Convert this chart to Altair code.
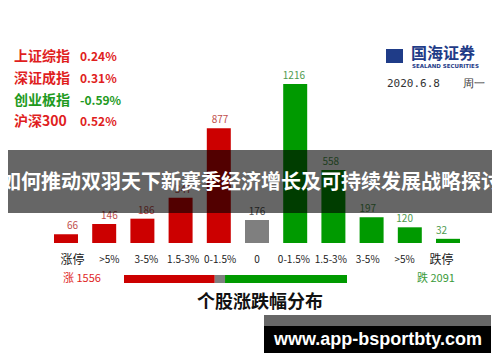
import altair as alt
import pandas as pd

# ---- data ----
categories = ["涨停", ">5%", "3-5%", "1.5-3%", "0-1.5%", "0", "0-1.5%", "1.5-3%", "3-5%", ">5%", "跌停"]
counts = [66, 146, 186, 347, 877, 176, 1216, 558, 197, 120, 32]
groups = ["up", "up", "up", "up", "up", "flat", "down", "down", "down", "down", "down"]

index_names = ["上证综指", "深证成指", "创业板指", "沪深300"]
index_changes = ["0.24%", "0.31%", "-0.59%", "0.52%"]
index_dirs = ["up", "up", "down", "up"]

breadth_labels = ["涨", "平", "跌"]
breadth_counts = [1556, 176, 2091]
breadth_groups = ["up", "flat", "down"]

date_text = "2020.6.8"
weekday_text = "周一"
chart_title = "个股涨跌幅分布"
overlay_title = "如何推动双羽天下新赛季经济增长及可持续发展战略探讨"
watermark = "www.app-bsportbty.com"

# ---- styles ----
O = 8  # page margin offset
W, H = 500 - 2 * O, 362 - 2 * O
FONT = "Noto Sans CJK SC"
bar_col = {"up": "#cc0000", "flat": "#7f7f7f", "down": "#009a00"}
lab_col = {"up": "#c0504d", "flat": "#555555", "down": "#4e9a4e"}
txt_col = {"up": "#e01e1e", "down": "#1e9a1e"}

keys = [f"k{i}" for i in range(len(categories))]
bars = pd.DataFrame({
    "key": keys,
    "cat": categories,
    "count": counts,
    "bar_color": [bar_col[g] for g in groups],
    "lab_color": [lab_col[g] for g in groups],
    "fs": [12 if c in ("涨停", "跌停") else 10 for c in categories],
})

xscale = alt.Scale(domain=keys, range=[54 - O, 460 - O], paddingInner=0.372, paddingOuter=0)
yscale = alt.Scale(domain=[0, 1216], range=[243 - O, 84 - O])

base = alt.Chart(bars)
bar_layer = base.mark_bar().encode(
    x=alt.X("key:N", scale=xscale, axis=None),
    y=alt.Y("count:Q", scale=yscale, axis=None),
    color=alt.Color("bar_color:N", scale=None),
)
val_layer = base.mark_text(font=FONT, fontSize=10, baseline="bottom", dy=-3).encode(
    x=alt.X("key:N", scale=xscale, axis=None),
    y=alt.Y("count:Q", scale=yscale, axis=None),
    text="count:Q",
    color=alt.Color("lab_color:N", scale=None),
)
cat_layer = base.mark_text(font=FONT, baseline="middle", color="#222222").encode(
    x=alt.X("key:N", scale=xscale, axis=None),
    y=alt.value(260 - O),
    text="cat:N",
    size=alt.Size("fs:Q", scale=None),
)

# breadth bar (segments computed from the counts)
starts, ends, acc = [], [], 0
for c in breadth_counts:
    starts.append(acc)
    acc += c
    ends.append(acc)
breadth = pd.DataFrame({
    "label": breadth_labels,
    "start": starts,
    "end": ends,
    "color": [bar_col[g] for g in breadth_groups],
})
bscale = alt.Scale(domain=[0, acc], range=[124 - O, 347 - O])
breadth_layer = alt.Chart(breadth).mark_rect().encode(
    x=alt.X("start:Q", scale=bscale, axis=None),
    x2="end:Q",
    y=alt.value(275 - O),
    y2=alt.value(283 - O),
    color=alt.Color("color:N", scale=None),
)

# breadth text
bt = pd.DataFrame({
    "t": [f"{breadth_labels[0]} {breadth_counts[0]}", f"{breadth_labels[2]} {breadth_counts[2]}"],
    "x": [63 - O, 417 - O],
    "c": [txt_col["up"], "#3a9a3a"],
})
bt_layer = alt.Chart(bt).mark_text(font=FONT, fontSize=11, align="left", baseline="middle").encode(
    x=alt.X("x:Q", scale=None), y=alt.value(279 - O), text="t:N", color=alt.Color("c:N", scale=None)
)

# index table
idx = pd.DataFrame({
    "name": index_names,
    "chg": index_changes,
    "y": [57 - O, 79 - O, 101 - O, 122 - O],
    "c": [txt_col[d] for d in index_dirs],
})
idx_name = alt.Chart(idx).mark_text(font=FONT, fontSize=14, fontWeight="bold", align="left", baseline="middle").encode(
    x=alt.value(14 - O), y=alt.Y("y:Q", scale=None), text="name:N", color=alt.Color("c:N", scale=None)
)
idx_chg = alt.Chart(idx).mark_text(font=FONT, fontSize=12, fontWeight="bold", align="left", baseline="middle").encode(
    x=alt.value(80 - O), y=alt.Y("y:Q", scale=None), text="chg:N", color=alt.Color("c:N", scale=None)
)

# logo & date
logo_icon = alt.Chart(pd.DataFrame({"a": [1]})).mark_rect(color="#1f3c88").encode(
    x=alt.value(386 - O), x2=alt.value(403 - O), y=alt.value(49 - O), y2=alt.value(63 - O)
)
logo_cn = alt.Chart(pd.DataFrame({"t": ["国海证券"]})).mark_text(
    font=FONT, fontSize=16, fontWeight="bold", color="#1f3c88", align="left", baseline="middle"
).encode(x=alt.value(411 - O), y=alt.value(54 - O), text="t:N")
logo_en = alt.Chart(pd.DataFrame({"t": ["SEALAND SECURITIES"]})).mark_text(
    font="DejaVu Sans", fontSize=5.5, fontWeight="bold", color="#1f3c88", align="left", baseline="middle"
).encode(x=alt.value(412 - O), y=alt.value(66 - O), text="t:N")
date_layer = alt.Chart(pd.DataFrame({"t": [date_text, weekday_text], "x": [387 - O, 463 - O]})).mark_text(
    font="DejaVu Sans Mono", fontSize=11, color="#333333", align="left", baseline="middle"
).encode(x=alt.X("x:Q", scale=None), y=alt.value(84 - O), text="t:N")

# chart title
title_layer = alt.Chart(pd.DataFrame({"t": [chart_title]})).mark_text(
    font=FONT, fontSize=18, fontWeight="bold", color="#111111", align="center", baseline="middle"
).encode(x=alt.value(260 - O), y=alt.value(303 - O), text="t:N")

# overlay band
band = alt.Chart(pd.DataFrame({"a": [1]})).mark_rect(color="#000000", opacity=0.6).encode(
    x=alt.value(0), x2=alt.value(W), y=alt.value(150 - O), y2=alt.value(213 - O)
)
band_text = alt.Chart(pd.DataFrame({"t": [overlay_title]})).mark_text(
    font=FONT, fontSize=20, fontWeight="bold", color="#ffffff", align="center", baseline="middle"
).encode(x=alt.value(251 - O), y=alt.value(183 - O), text="t:N")

# watermark
wm_gray = alt.Chart(pd.DataFrame({"a": [1]})).mark_rect(color="#666666").encode(
    x=alt.value(264 - O), x2=alt.value(491 - O), y=alt.value(315 - O), y2=alt.value(326 - O)
)
wm_black = alt.Chart(pd.DataFrame({"a": [1]})).mark_rect(color="#000000").encode(
    x=alt.value(264 - O), x2=alt.value(491 - O), y=alt.value(326 - O), y2=alt.value(353 - O)
)
wm_text = alt.Chart(pd.DataFrame({"t": [watermark]})).mark_text(
    font="Liberation Sans", fontSize=18, fontWeight="bold", color="#ffffff", align="center", baseline="middle"
).encode(x=alt.value(378 - O), y=alt.value(340 - O), text="t:N")

chart = alt.layer(
    bar_layer, val_layer, cat_layer, breadth_layer, bt_layer,
    idx_name, idx_chg, logo_icon, logo_cn, logo_en, date_layer, title_layer,
    band, band_text, wm_gray, wm_black, wm_text,
).resolve_scale(x="independent", y="independent", color="independent", size="independent").properties(
    width=W, height=H, autosize=alt.AutoSizeParams(type="none"), padding=0, background="white"
).configure_view(stroke=None)

chart.save("out.html", embed_options={"renderer": "svg", "actions": False})
